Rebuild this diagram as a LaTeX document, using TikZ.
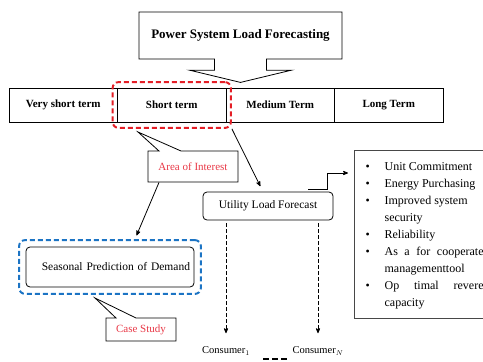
\documentclass[tikz,border=0pt]{standalone}
\usepackage{fontspec}
\setmainfont{Liberation Serif}
\usepackage{tikz}
\usetikzlibrary{arrows,positioning,calc,fit}
\usetikzlibrary{shapes.arrows,shapes.callouts}
\definecolor{markred}{RGB}{228,30,38}
\definecolor{markblue}{RGB}{28,116,196}
\definecolor{labelred}{RGB}{232,56,70}
\definecolor{framegrey}{RGB}{72,72,72}
\tikzstyle{Tbox}=[shape=arrow box,draw=black,line width=0.8pt,font=\fontsize{13}{15}\selectfont\bfseries]
\tikzstyle{Hbox}=[shape=rectangle,draw=black,line width=0.8pt,minimum width=108.5pt,minimum height=34pt,font=\fontsize{11}{13}\selectfont\bfseries]
\tikzstyle{Rbox}=[shape=rectangle,rounded corners=4pt,draw=black,line width=0.8pt,font=\fontsize{11.5}{13}\selectfont]
\tikzstyle{Cbox}=[shape=rectangle callout,draw=black,line width=0.8pt,text=labelred,font=\fontsize{11}{13}\selectfont]
\tikzstyle{redmark}=[draw=markred,line width=2pt,dash pattern=on 5pt off 3pt,rounded corners=6pt]
\tikzstyle{bluemark}=[draw=markblue,line width=2pt,dash pattern=on 5pt off 3pt,rounded corners=6pt]
\tikzstyle{darkedge}=[->,>=stealth',line width=0.8pt]
\tikzstyle{lightedge}=[->,>=stealth',line width=0.8pt,dash pattern=on 3.5pt off 2.5pt]

\begin{document}
\begin{tikzpicture}[x=1pt,y=-1pt]
\useasboundingbox (0,0) rectangle (483,362);

\node[Tbox,minimum width=203pt,minimum height=47pt,arrow box arrows={south:23pt from border},
  arrow box shaft width=52pt,arrow box head extend=25pt,arrow box head indent=0pt,
  arrow box tip angle=153] (title) at (240.5,35.5) {Power System Load Forecasting};

\node[Hbox] (vshort) at (63.25,105) {Very short term};
\node[Hbox] (short) at (171.75,105) {Short term};
\node[Hbox] (medium) at (280.25,105) {Medium Term};
\node[Hbox] (long) at (388.75,105) {Long Term};

\node[redmark,fit=(short),inner xsep=4.5pt,inner ysep=5.5pt] (focus) {};

\node[Cbox,minimum width=90pt,minimum height=31pt,callout absolute pointer={(138,132)},
  callout pointer width=22pt] (aoi) at (193,166.5) {Area of Interest};

\node[Rbox,minimum width=130pt,minimum height=28pt] (utility) at (268,206) {Utility Load Forecast};

\node[Rbox,minimum height=40pt,text width=160pt,align=right,inner xsep=4pt] (season) at (110,267)
  {Seasonal Prediction of Demand};
\node[bluemark,fit=(season),inner xsep=6.5pt,inner ysep=6.5pt] (study) {};

\node[Cbox,minimum width=70pt,minimum height=23pt,callout absolute pointer={(95,298)},
  callout pointer width=20pt] (case) at (141,329.5) {Case Study};

% benefits of the forecast
\node[draw=framegrey,line width=1.2pt,anchor=north west,minimum width=136pt,minimum height=168pt,
  inner xsep=11pt,inner ysep=6pt,align=left,font=\fontsize{12}{17.1}\selectfont,text depth=0pt] (benefits) at (354,150)
  {\makebox[19pt][l]{\textbullet}Unit Commitment\\
   \makebox[19pt][l]{\textbullet}Energy Purchasing\\
   \makebox[19pt][l]{\textbullet}Improved system\\
   \hspace*{19pt}security\\
   \makebox[19pt][l]{\textbullet}Reliability\\
   \makebox[19pt][l]{\textbullet}\makebox[99pt][s]{As a for cooperate}\\
   \hspace*{19pt}managementtool\\
   \makebox[19pt][l]{\textbullet}\makebox[99pt][s]{Op timal revere}\\
   \hspace*{19pt}capacity};

\node[font=\fontsize{10.5}{12}\selectfont] (c1) at (226,351) {Consumer$_1$};
\node[font=\fontsize{10.5}{12}\selectfont] (cN) at (318,351) {Consumer$_N$};

\path
(focus.south east) edge [darkedge,shorten >=6pt] ([xshift=-5pt]utility.north)
([xshift=-34pt]aoi.south) edge [darkedge,shorten >=4pt] ([xshift=25pt]study.north)
(c1 |- utility.south) edge [lightedge,shorten <=3pt,shorten >=10pt] (c1)
(cN |- utility.south) edge [lightedge,shorten <=3pt,shorten >=10pt] (cN);

\draw[darkedge] ([xshift=40pt,yshift=2pt]utility.north) -- ++(19,0) |- ([xshift=-6pt,yshift=-23pt]benefits.north west);
\draw[line width=2.5pt,dash pattern=on 6pt off 3pt,shorten <=10pt,shorten >=1pt]
  ([yshift=-8pt]c1.east) -- ([yshift=-8pt]cN.west);

\end{tikzpicture}
\end{document}
